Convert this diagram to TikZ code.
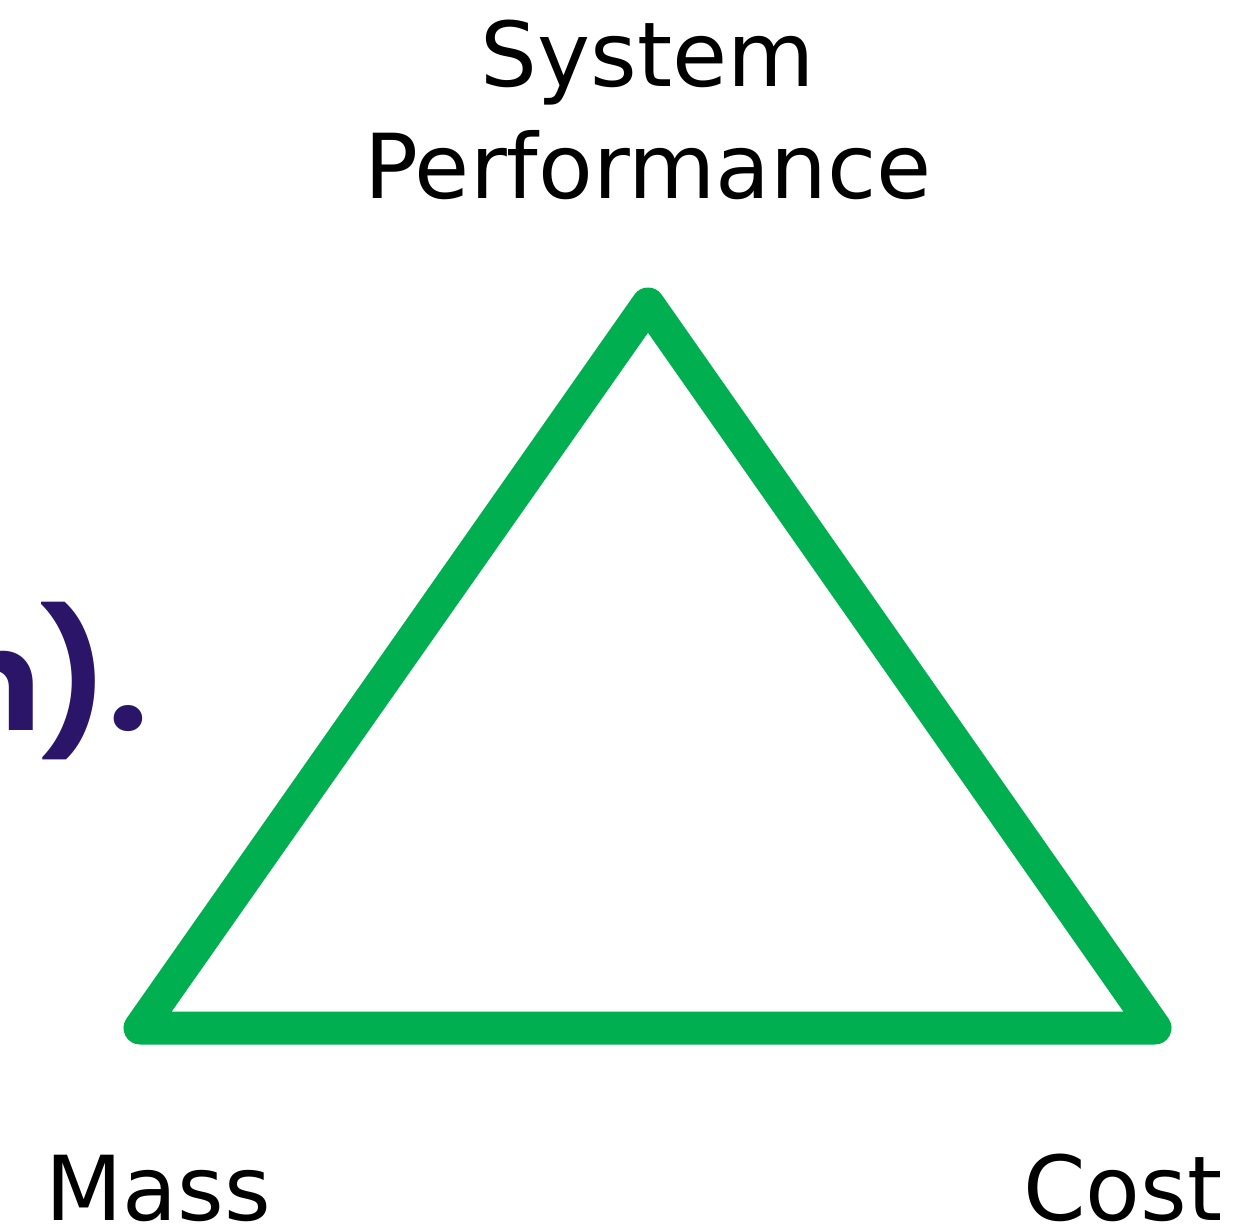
\documentclass[tikz,border=0pt]{standalone}
\usepackage{fontspec}
\setmainfont{DejaVu Sans}
\newfontfamily\slidefont{Poppins}
\usepackage{tikz}
\usetikzlibrary{positioning}
\definecolor{Leaf}{HTML}{00B050}
\definecolor{Plum}{HTML}{2B1568}
\tikzset{
  side/.style={draw=Leaf,line width=.66cm,line join=round,line cap=round},
  corner/.style={font=\fontsize{51}{63.5}\selectfont,inner sep=0pt,text=black},
  cut/.style={font=\fontsize{80}{90}\slidefont\bfseries,inner sep=0pt,text=Plum}
}
\begin{document}
\begin{tikzpicture}[x=.02cm,y=-.02cm]
      \useasboundingbox (0,0) rectangle (1250,1230);
      \coordinate (perf) at (648,304);
      \coordinate (mass) at (140,1028);
      \coordinate (cost) at (1155,1028);

      % left-over text from the slide
      \begin{scope}
        \clip (0,0) rectangle (1250,1230);
        \node[cut,anchor=base east] (tail) at (148,730) {n).};
      \end{scope}

      \draw[side] (perf)--(mass)--(cost)--cycle;

      \node[corner,align=center,anchor=base] (perflab) at (648,198) {System\\Performance};
      \node[corner,anchor=base] (masslab) at (158,1220) {Mass};
      \node[corner,anchor=base] (costlab) at (1123,1220) {Cost};
    \end{tikzpicture}
\end{document}
